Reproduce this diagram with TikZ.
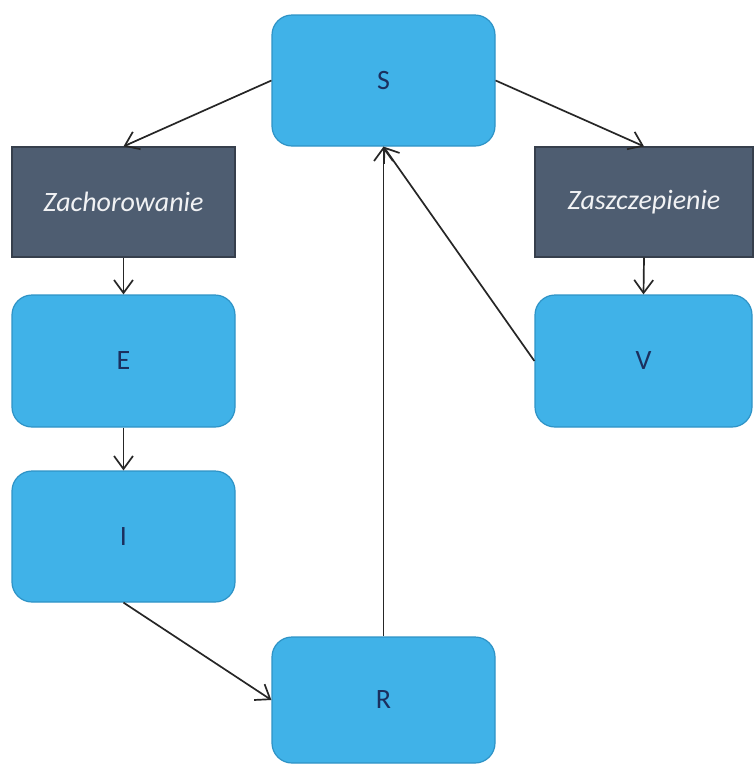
\documentclass[tikz,border=0pt]{standalone}
\usepackage{fontspec}
\setmainfont{Carlito}
\usetikzlibrary{arrows.meta}
\definecolor{boxblue}{HTML}{40B2E8}
\definecolor{boxblueline}{HTML}{2E93C6}
\definecolor{slatebox}{HTML}{4E5D71}
\definecolor{slateline}{HTML}{363F4C}
\definecolor{navytext}{HTML}{1B2F5E}
\begin{document}
\begin{tikzpicture}[x=1pt,y=-1pt,
  bluebox/.style={draw=boxblueline, line width=1.2pt, fill=boxblue, rounded corners=20pt,
    minimum width=223pt, inner sep=0pt, text=navytext, font=\fontsize{28}{32}\selectfont},
  darkbox/.style={draw=slateline, line width=1.2pt, fill=slatebox,
    minimum height=110pt, inner sep=0pt, text=white!92!slatebox,
    font=\fontsize{28}{32}\selectfont\itshape},
  conn/.style={draw=black!85, line width=1.7pt, -{Straight Barb[length=13pt,width=19pt,line width=1.7pt]}}]
\useasboundingbox (0,0) rectangle (754,764);
\node[bluebox, minimum height=131pt] (S) at (383.5,80.5) {S};
\node[darkbox, minimum width=223pt] (Z) at (123.5,202) {Zachorowanie};
\node[darkbox, minimum width=218pt] (Q) at (644,202) {Zaszczepienie};
\node[bluebox, minimum height=132pt] (E) at (123.5,361) {E};
\node[bluebox, minimum height=132pt, minimum width=217pt] (V) at (643.5,361) {V};
\node[bluebox, minimum height=131pt] (I) at (123.5,536.5) {I};
\node[bluebox, minimum height=126pt] (R) at (383.5,700) {R};
\draw[conn] (S.west) -- (Z.north);
\draw[conn] (S.east) -- (Q.north);
\draw[conn] (Z.south) -- (E.north);
\draw[conn] (Q.south) -- (V.north);
\draw[conn] (E.south) -- (I.north);
\draw[conn] (I.south) -- (R.west);
\draw[conn] (R.north) -- (S.south);
\draw[conn] (V.west) -- (S.south);
\end{tikzpicture}
\end{document}
